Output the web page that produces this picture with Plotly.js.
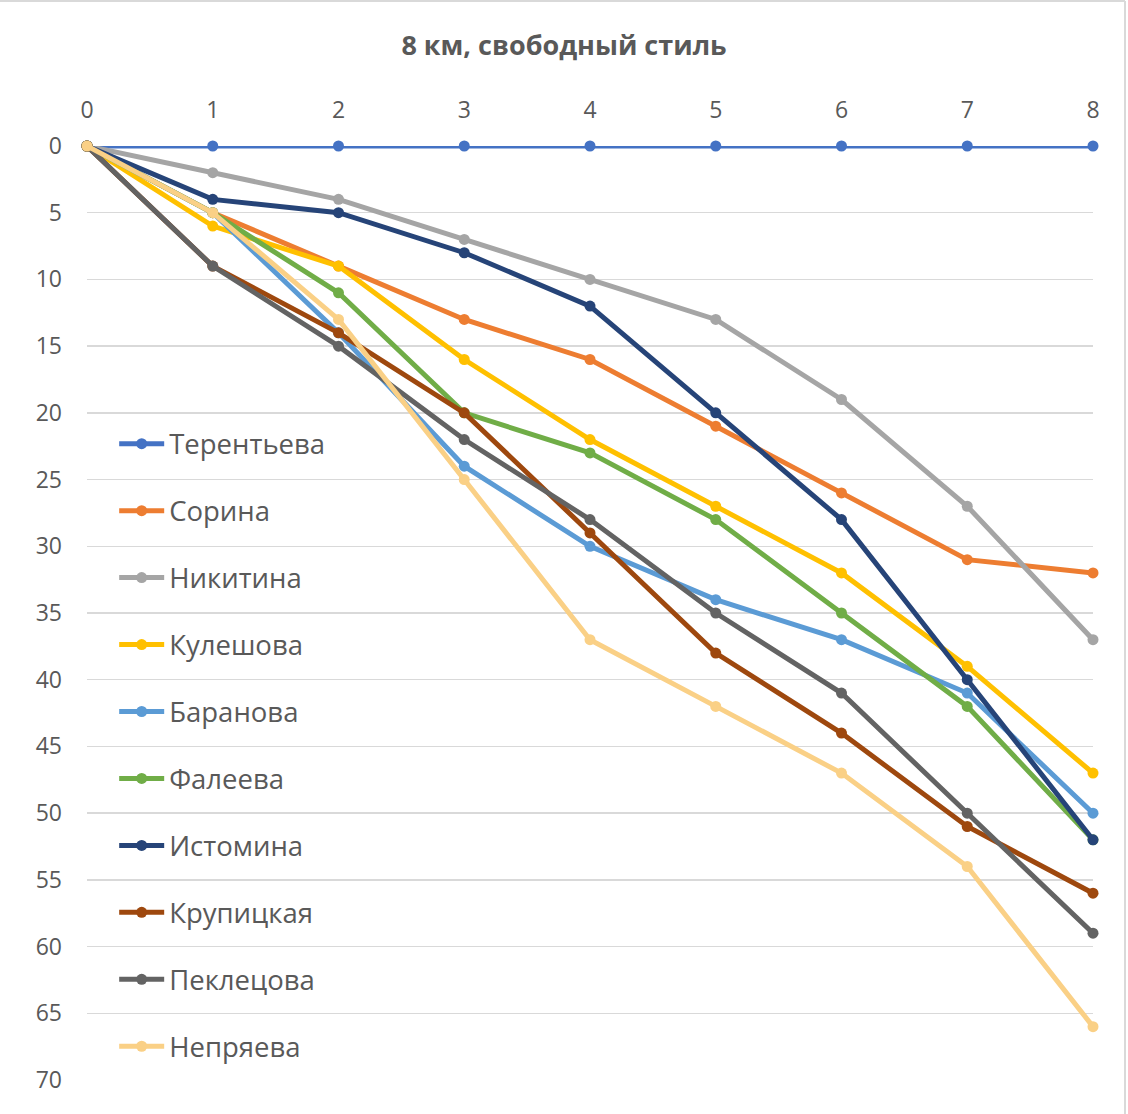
<!DOCTYPE html>
<html>
<head>
<meta charset="utf-8">
<script src="https://cdn.plot.ly/plotly-3.0.1.min.js"></script>
<style>html,body{margin:0;padding:0;background:#fff}#chart{width:1128px;height:1114px}</style>
</head>
<body>
<div id="chart"></div>
<script>
const km = [0, 1, 2, 3, 4, 5, 6, 7, 8];
const names = ["Терентьева", "Сорина", "Никитина", "Кулешова", "Баранова", "Фалеева", "Истомина", "Крупицкая", "Пеклецова", "Непряева"];
const terentyeva = [0, 0, 0, 0, 0, 0, 0, 0, 0];
const sorina     = [0, 5, 9, 13, 16, 21, 26, 31, 32];
const nikitina   = [0, 2, 4, 7, 10, 13, 19, 27, 37];
const kuleshova  = [0, 6, 9, 16, 22, 27, 32, 39, 47];
const baranova   = [0, 5, 14, 24, 30, 34, 37, 41, 50];
const faleeva    = [0, 5, 11, 20, 23, 28, 35, 42, 52];
const istomina   = [0, 4, 5, 8, 12, 20, 28, 40, 52];
const krupitskaya= [0, 9, 14, 20, 29, 38, 44, 51, 56];
const peklecova  = [0, 9, 15, 22, 28, 35, 41, 50, 59];
const nepryaeva  = [0, 5, 13, 25, 37, 42, 47, 54, 66];
const series = [terentyeva, sorina, nikitina, kuleshova, baranova, faleeva, istomina, krupitskaya, peklecova, nepryaeva];
const colors = ["#4472C4", "#ED7D31", "#A5A5A5", "#FFC000", "#5B9BD5", "#70AD47", "#264478", "#9E480E", "#636363", "#FAD086"];
const yTicks = [0,5,10,15,20,25,30,35,40,45,50,55,60,65,70];

const traces = series.map((vals, i) => ({
  x: km, y: vals, name: names[i], type: 'scatter', mode: 'lines+markers',
  line: {color: colors[i], width: 5},
  marker: {color: colors[i], size: 11},
  cliponaxis: false,
  legendgroup: 'g' + i
}));
const layout = {
  width: 1128, height: 1114,
  margin: {l: 87, r: 35, t: 146, b: 34},
  paper_bgcolor: '#ffffff', plot_bgcolor: '#ffffff',
  font: {family: 'Open Sans, Noto Sans, sans-serif', color: '#595959'},
  title: {text: '<b>8 км, свободный стиль</b>', font: {size: 27, color: '#595959', family: 'Open Sans, Noto Sans, sans-serif'},
          x: 0.5, xref: 'container', y: 1 - 46/1114, yref: 'container', yanchor: 'middle'},
  xaxis: {side: 'top', range: [0, 8], tickvals: km, showgrid: false, zeroline: false, showline: false,
          ticks: '', ticklabelstandoff: 22, tickfont: {size: 23, color: '#595959'}, fixedrange: true},
  yaxis: {range: [70, 0], tickvals: yTicks, showgrid: true, gridcolor: '#D9D9D9', gridwidth: 1.5,
          zeroline: false, showline: false, ticks: '', ticklabelstandoff: 24,
          tickfont: {size: 23, color: '#595959'}, fixedrange: true},
  showlegend: true,
  legend: {x: 0.03 - 3/1006, y: (1080 - 444) / 934 + 0.02 + 6/934, xanchor: 'left', yanchor: 'top', bgcolor: 'rgba(0,0,0,0)',
           font: {size: 27.5, color: '#595959'}, traceorder: 'grouped', tracegroupgap: 28.2, itemwidth: 45},
  shapes: [
    {type: 'line', xref: 'paper', yref: 'paper', x0: -87/1006, x1: 1125/1006 - 87/1006, y0: 1 + 145/934, y1: 1 + 145/934,
     line: {color: '#D9D9D9', width: 2}},
    {type: 'line', xref: 'paper', yref: 'paper', x0: (1125-87)/1006, x1: (1125-87)/1006, y0: -34/934, y1: 1 + 145/934,
     line: {color: '#D9D9D9', width: 2}}
  ]
};
Plotly.newPlot('chart', traces, layout, {displayModeBar: false, staticPlot: true});
</script>
</body>
</html>
